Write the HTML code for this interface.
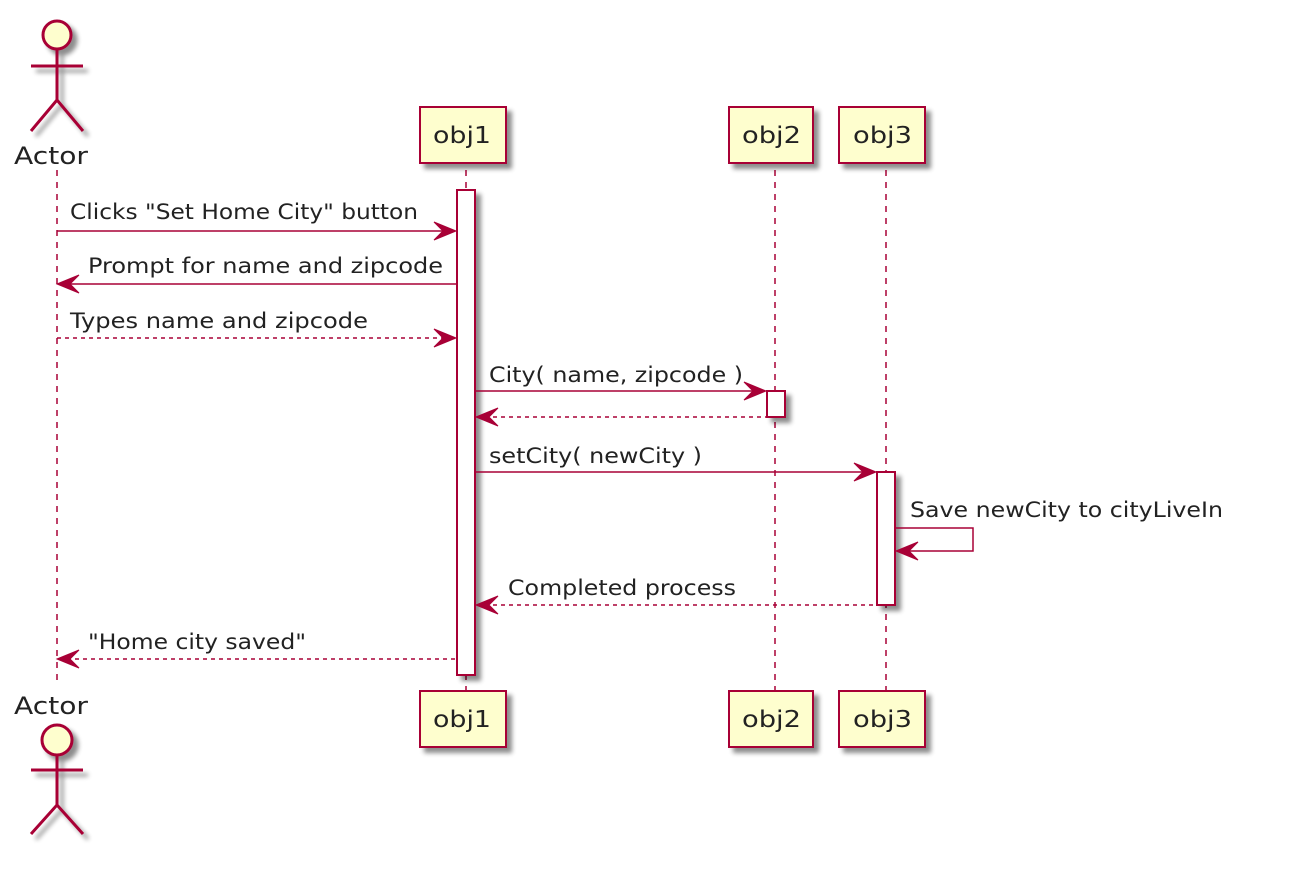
<!DOCTYPE html>
<html><head><meta charset="utf-8"><style>
html,body{margin:0;padding:0;background:#fff;}
svg{display:block}
text{font-family:"DejaVu Sans","Liberation Sans",sans-serif;font-size:21px;fill:#222;}
</style></head><body>
<svg width="1294" height="872" viewBox="0 0 1294 872" xmlns="http://www.w3.org/2000/svg">
<defs>
<filter id="sh" x="-20%" y="-20%" width="150%" height="150%">
<feGaussianBlur in="SourceAlpha" stdDeviation="2.5"/>
<feOffset dx="5" dy="5" result="b"/>
<feComponentTransfer><feFuncA type="linear" slope="0.45"/></feComponentTransfer>
<feMerge><feMergeNode/><feMergeNode in="SourceGraphic"/></feMerge>
</filter>
</defs>
<g stroke="#A80036" stroke-width="1.5" stroke-dasharray="6,6" fill="none">
<line x1="57" y1="170" x2="57" y2="685"/>
<line x1="466" y1="170" x2="466" y2="690"/>
<line x1="775" y1="170" x2="775" y2="690"/>
<line x1="886" y1="170" x2="886" y2="690"/>
</g>
<g stroke="#A80036" stroke-width="3" fill="none" filter="url(#sh)">
<circle cx="57" cy="35" r="14" fill="#FEFECE"/>
<line x1="57" y1="49" x2="57" y2="100"/>
<line x1="31" y1="66" x2="83" y2="66"/>
<polyline points="31,131 57,100 83,131"/>
<circle cx="57" cy="740" r="15" fill="#FEFECE"/>
<line x1="57" y1="755" x2="57" y2="805"/>
<line x1="31" y1="770" x2="83" y2="770"/>
<polyline points="31,834 57,805 83,834"/>
</g>
<text x="14" y="164" style="font-size:24px" textLength="74" lengthAdjust="spacingAndGlyphs">Actor</text>
<text x="14" y="714" style="font-size:24px" textLength="74" lengthAdjust="spacingAndGlyphs">Actor</text>
<g stroke="#A80036" stroke-width="2" fill="#FEFECE" filter="url(#sh)">
<rect x="420" y="107" width="86" height="56"/>
<rect x="729" y="107" width="84" height="56"/>
<rect x="839" y="107" width="86" height="56"/>
<rect x="420" y="691" width="86" height="56"/>
<rect x="729" y="691" width="84" height="56"/>
<rect x="839" y="691" width="86" height="56"/>
</g>
<text x="433" y="143" style="font-size:23px" textLength="58" lengthAdjust="spacingAndGlyphs">obj1</text>
<text x="742" y="143" style="font-size:23px" textLength="59" lengthAdjust="spacingAndGlyphs">obj2</text>
<text x="853" y="143" style="font-size:23px" textLength="59" lengthAdjust="spacingAndGlyphs">obj3</text>
<text x="433" y="727" style="font-size:23px" textLength="58" lengthAdjust="spacingAndGlyphs">obj1</text>
<text x="742" y="727" style="font-size:23px" textLength="59" lengthAdjust="spacingAndGlyphs">obj2</text>
<text x="853" y="727" style="font-size:23px" textLength="59" lengthAdjust="spacingAndGlyphs">obj3</text>
<g stroke="#A80036" stroke-width="2" fill="#fff" filter="url(#sh)">
<rect x="457" y="190" width="18" height="485"/>
<rect x="767" y="391" width="18" height="26"/>
<rect x="877" y="472" width="18" height="133"/>
</g>
<g stroke="#A80036" stroke-width="1.5" fill="none">
<line x1="57" y1="231" x2="455" y2="231"/>
<line x1="59" y1="284" x2="457" y2="284"/>
<line x1="57" y1="338" x2="455" y2="338" stroke-dasharray="4,4"/>
<line x1="475" y1="391" x2="765" y2="391"/>
<line x1="477" y1="417" x2="767" y2="417" stroke-dasharray="4,4"/>
<line x1="475" y1="472" x2="875" y2="472"/>
<polyline points="895,528 973,528 973,551 897,551"/>
<line x1="477" y1="605" x2="877" y2="605" stroke-dasharray="4,4"/>
<line x1="59" y1="659" x2="457" y2="659" stroke-dasharray="4,4"/>
</g>
<g fill="#A80036" stroke="#A80036" stroke-width="1">
<polygon points="456,231 434,222 443,231 434,240"/>
<polygon points="57,284 79,275 70,284 79,293"/>
<polygon points="456,338 434,329 443,338 434,347"/>
<polygon points="766,391 744,382 753,391 744,400"/>
<polygon points="476,417 498,408 489,417 498,426"/>
<polygon points="876,472 854,463 863,472 854,481"/>
<polygon points="896,551 918,542 909,551 918,560"/>
<polygon points="476,605 498,596 489,605 498,614"/>
<polygon points="57,659 79,650 70,659 79,668"/>
</g>
<text x="70" y="219" textLength="348" lengthAdjust="spacingAndGlyphs">Clicks "Set Home City" button</text>
<text x="88" y="273" textLength="355" lengthAdjust="spacingAndGlyphs">Prompt for name and zipcode</text>
<text x="70" y="328" textLength="298" lengthAdjust="spacingAndGlyphs">Types name and zipcode</text>
<text x="489" y="382" textLength="254" lengthAdjust="spacingAndGlyphs">City( name, zipcode )</text>
<text x="489" y="463" textLength="213" lengthAdjust="spacingAndGlyphs">setCity( newCity )</text>
<text x="910" y="517" textLength="313" lengthAdjust="spacingAndGlyphs">Save newCity to cityLiveIn</text>
<text x="508" y="595" textLength="228" lengthAdjust="spacingAndGlyphs">Completed process</text>
<text x="88" y="649" textLength="218" lengthAdjust="spacingAndGlyphs">"Home city saved"</text>
</svg>
</body></html>
